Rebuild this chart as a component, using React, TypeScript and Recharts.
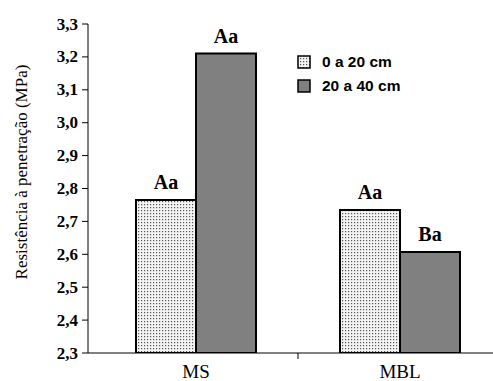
import React from "react";
import { BarChart, Bar, XAxis, YAxis, LabelList } from "recharts";

const categories = ["MS", "MBL"];
const depth0to20 = [2.765, 2.735];
const depth20to40 = [3.21, 2.607];
const letters0to20 = ["Aa", "Aa"];
const letters20to40 = ["Aa", "Ba"];
const seriesNames = ["0 a 20 cm", "20 a 40 cm"];
const yTicks = [2.3, 2.4, 2.5, 2.6, 2.7, 2.8, 2.9, 3.0, 3.1, 3.2, 3.3];

const SERIF = '"Liberation Serif", "Times New Roman", serif';
const SANS = '"Liberation Sans", Arial, sans-serif';

const data = categories.map((name, i) => ({
  name,
  d1: depth0to20[i],
  d2: depth20to40[i],
  l1: letters0to20[i],
  l2: letters20to40[i],
}));

const fmt = (v: number) => v.toFixed(1).replace(".", ",");

// category label plus a tick mark on the boundary between groups
const CategoryTick = (props: any) => {
  const { x, y, payload, index } = props;
  const half = payload && payload.offset ? payload.offset : 102;
  return (
    <g>
      {index === 0 && (
        <line x1={x + half} x2={x + half} y1={y} y2={y + 6} stroke="#000" strokeWidth={1} />
      )}
      <text x={x} y={y + 25} textAnchor="middle" fontFamily={SERIF} fontSize={19} fill="#000">
        {payload.value}
      </text>
    </g>
  );
};

const YTick = (props: any) => {
  const { x, y, payload } = props;
  return (
    <text
      x={x}
      y={y}
      textAnchor="end"
      dominantBaseline="central"
      fontFamily={SERIF}
      fontWeight={700}
      fontSize={17}
      fill="#000"
    >
      {fmt(payload.value)}
    </text>
  );
};

const Swatch = ({ fill }: { fill: string }) => (
  <svg width={14} height={14} style={{ marginRight: 11, display: "block" }}>
    <defs>
      <pattern id="legdots" width={3} height={3} patternUnits="userSpaceOnUse">
        <rect width={3} height={3} fill="#f4f4f4" />
        <rect x={0} y={0} width={1.2} height={1.2} fill="#555" />
      </pattern>
    </defs>
    <rect x={1} y={1} width={12} height={12} fill={fill} stroke="#000" strokeWidth={1.5} />
  </svg>
);

const LegendBox = () => (
  <div
    style={{
      position: "absolute",
      left: 297,
      top: 50,
      fontFamily: SANS,
      fontWeight: 700,
      fontSize: 15.5,
      color: "#000",
      lineHeight: "24px",
    }}
  >
    <div style={{ display: "flex", alignItems: "center", height: 24 }}>
      <Swatch fill="url(#legdots)" />
      {seriesNames[0]}
    </div>
    <div style={{ display: "flex", alignItems: "center", height: 24 }}>
      <Swatch fill="#808080" />
      {seriesNames[1]}
    </div>
  </div>
);

const YLabel = () => (
  <text
    x={21}
    y={172}
    transform="rotate(-90, 21, 172)"
    textAnchor="middle"
    dominantBaseline="central"
    fontFamily={SERIF}
    fontSize={17}
    fill="#000"
  >
    Resistência à penetração (MPa)
  </text>
);

const letterStyle = {
  fill: "#000",
  fontFamily: SERIF,
  fontWeight: 700,
  fontSize: 20,
};

export default function App() {
  return (
    <div
      style={{
        position: "absolute",
        left: 0,
        top: 0,
        width: 493,
        height: 381,
        overflow: "hidden",
        background: "#fff",
      }}
    >
      <BarChart
        width={510}
        height={381}
        data={data}
        margin={{ top: 24, right: 8, bottom: 0, left: 0 }}
        barGap={0}
        barSize={60}
      >
        <defs>
          <pattern id="dots" width={3} height={3} patternUnits="userSpaceOnUse">
            <rect width={3} height={3} fill="#f4f4f4" />
            <rect x={0} y={0} width={1.2} height={1.2} fill="#555" />
          </pattern>
        </defs>
        <XAxis
          dataKey="name"
          height={28}
          padding={{ left: 6, right: 0 }}
          axisLine={{ stroke: "#000", strokeWidth: 1 }}
          tickLine={false}
          tickSize={0}
          tickMargin={0}
          tick={<CategoryTick />}
          interval={0}
        />
        <YAxis
          width={88}
          domain={[2.3, 3.3]}
          ticks={yTicks}
          interval={0}
          axisLine={{ stroke: "#000", strokeWidth: 1 }}
          tickLine={{ stroke: "#000" }}
          tickSize={6}
          tickMargin={4}
          tick={<YTick />}
          allowDataOverflow
          label={{ content: () => <YLabel /> }}
        />
        <Bar dataKey="d1" name={seriesNames[0]} fill="url(#dots)" stroke="#000" strokeWidth={2} isAnimationActive={false}>
          <LabelList dataKey="l1" position="top" offset={11} {...letterStyle} />
        </Bar>
        <Bar dataKey="d2" name={seriesNames[1]} fill="#808080" stroke="#000" strokeWidth={2} isAnimationActive={false}>
          <LabelList dataKey="l2" position="top" offset={11} {...letterStyle} />
        </Bar>
      </BarChart>
      <LegendBox />
    </div>
  );
}
